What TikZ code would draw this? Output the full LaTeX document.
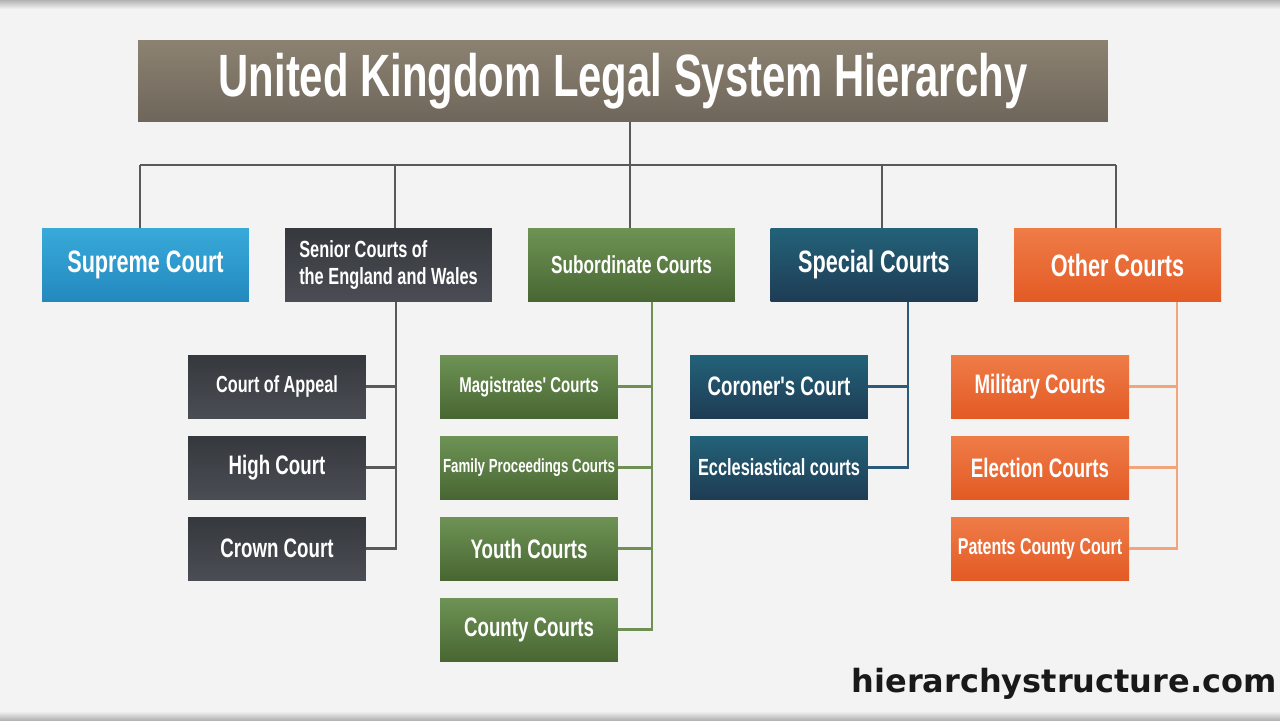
\documentclass[tikz,border=0pt]{standalone}
\usepackage{fontspec}
\usepackage{tikz}
\usetikzlibrary{calc}

\newfontfamily\condfont{Liberation Sans}[FakeStretch=0.7]
\newfontfamily\webfont{DejaVu Sans}

\definecolor{pagebg}{HTML}{F3F3F3}
\definecolor{titletop}{HTML}{8C8272}
\definecolor{titlebot}{HTML}{6E665A}
\definecolor{bluetop}{HTML}{38AADA}
\definecolor{bluebot}{HTML}{2388BE}
\definecolor{darktop}{HTML}{35383D}
\definecolor{darkbot}{HTML}{4A4E54}
\definecolor{greentop}{HTML}{6E9355}
\definecolor{greenbot}{HTML}{486632}
\definecolor{tealtop}{HTML}{236279}
\definecolor{tealbot}{HTML}{1E3C54}
\definecolor{orangetop}{HTML}{EF7C48}
\definecolor{orangebot}{HTML}{E35A24}
\definecolor{greenline}{HTML}{6F8F55}
\definecolor{tealline}{HTML}{2B5B78}
\definecolor{orangeline}{HTML}{F2A57A}

\tikzset{
  box/.style={rectangle, inner sep=0pt, text=white, font=\condfont\bfseries},
  titlebox/.style={box, minimum width=19.4cm, minimum height=1.64cm,
    top color=titletop, bottom color=titlebot, font=\condfont\bfseries\fontsize{34}{36}\selectfont},
  mainbox/.style={box, minimum width=4.14cm, minimum height=1.48cm, font=\condfont\bfseries\fontsize{17.6}{19}\selectfont},
  subbox/.style={box, minimum width=3.56cm, minimum height=1.26cm, font=\condfont\bfseries\fontsize{15.2}{17}\selectfont},
  link/.style={line width=1.3pt, draw=#1},
  link/.default={black!65}
}

\begin{document}
\begin{tikzpicture}[x=0.02cm, y=-0.02cm]
    \useasboundingbox (0,0) rectangle (1280,720);
    % background
    \fill[pagebg] (0,0) rectangle (1280,720);
    \shade[top color=black!30, bottom color=pagebg] (0,0) rectangle (1280,9);
    \shade[top color=pagebg, bottom color=black!30] (0,711) rectangle (1280,720);

    % title
    \node[titlebox] (title) at (623,81) {United Kingdom Legal System Hierarchy};

    % main courts
    \node[mainbox, top color=bluetop, bottom color=bluebot] (supreme) at (145.5,265) {Supreme Court};
    \node[mainbox, top color=darktop, bottom color=darkbot, align=left, font=\condfont\bfseries\fontsize{13.3}{15}\selectfont] (senior) at (388.5,265) {Senior Courts of\\the England and Wales};
    \node[mainbox, top color=greentop, bottom color=greenbot, font=\condfont\bfseries\fontsize{14}{16}\selectfont] (subord) at (631.5,265) {Subordinate Courts};
    \node[mainbox, top color=tealtop, bottom color=tealbot] (special) at (874,265) {Special Courts};
    \node[mainbox, top color=orangetop, bottom color=orangebot] (other) at (1117.5,265) {Other Courts};

    % senior courts
    \node[subbox, top color=darktop, bottom color=darkbot, font=\condfont\bfseries\fontsize{13.2}{15}\selectfont] (appeal) at (277,386.5) {Court of Appeal};
    \node[subbox, top color=darktop, bottom color=darkbot] (high) at (277,467.5) {High Court};
    \node[subbox, top color=darktop, bottom color=darkbot] (crown) at (277,548.5) {Crown Court};

    % subordinate courts
    \node[subbox, top color=greentop, bottom color=greenbot, font=\condfont\bfseries\fontsize{12.2}{14}\selectfont] (magis) at (529,386.5) {Magistrates' Courts};
    \node[subbox, top color=greentop, bottom color=greenbot, font=\condfont\bfseries\fontsize{10.8}{12}\selectfont] (family) at (529,467.5) {Family Proceedings Courts};
    \node[subbox, top color=greentop, bottom color=greenbot] (youth) at (529,548.5) {Youth Courts};
    \node[subbox, top color=greentop, bottom color=greenbot] (county) at (529,629.5) {County Courts};

    % special courts
    \node[subbox, top color=tealtop, bottom color=tealbot] (coroner) at (779,386.5) {Coroner's Court};
    \node[subbox, top color=tealtop, bottom color=tealbot, font=\condfont\bfseries\fontsize{13.3}{15}\selectfont] (eccl) at (779,467.5) {Ecclesiastical courts};

    % other courts
    \node[subbox, top color=orangetop, bottom color=orangebot] (military) at (1040,386.5) {Military Courts};
    \node[subbox, top color=orangetop, bottom color=orangebot] (election) at (1040,467.5) {Election Courts};
    \node[subbox, top color=orangetop, bottom color=orangebot, font=\condfont\bfseries\fontsize{13}{15}\selectfont] (patents) at (1040,548.5) {Patents County Court};

    % top level connectors
    \coordinate (bus) at (630,165);
    \coordinate (busL) at (140,165);
    \coordinate (busR) at (1116,165);
    \draw[link] (title.south -| bus) -- (bus);
    \draw[link] (busL) -- (busR);
    \draw[link] (busL) -- (supreme.north -| busL);
    \draw[link] (bus -| 395,0) -- (senior.north -| 395,0);
    \draw[link] (bus) -- (subord.north -| bus);
    \draw[link] (bus -| 882,0) -- (special.north -| 882,0);
    \draw[link] (busR) -- (other.north -| busR);

    % senior connectors
    \coordinate (sspine) at (396,302);
    \draw[link] (sspine) |- (crown.east);
    \draw[link] (appeal.east) -- (appeal.east -| sspine);
    \draw[link] (high.east) -- (high.east -| sspine);

    % subordinate connectors
    \coordinate (gspine) at (652,302);
    \draw[link=greenline] (gspine) |- (county.east);
    \draw[link=greenline] (magis.east) -- (magis.east -| gspine);
    \draw[link=greenline] (family.east) -- (family.east -| gspine);
    \draw[link=greenline] (youth.east) -- (youth.east -| gspine);

    % special connectors
    \coordinate (tspine) at (908,302);
    \draw[link=tealline] (tspine) |- (eccl.east);
    \draw[link=tealline] (coroner.east) -- (coroner.east -| tspine);

    % other connectors
    \coordinate (ospine) at (1177,302);
    \draw[link=orangeline] (ospine) |- (patents.east);
    \draw[link=orangeline] (military.east) -- (military.east -| ospine);
    \draw[link=orangeline] (election.east) -- (election.east -| ospine);

    % site name
    \node[font=\webfont\bfseries\fontsize{18.2}{20}\selectfont, text=black!90] (site) at (1064,684) {hierarchystructure.com};
\end{tikzpicture}
\end{document}
